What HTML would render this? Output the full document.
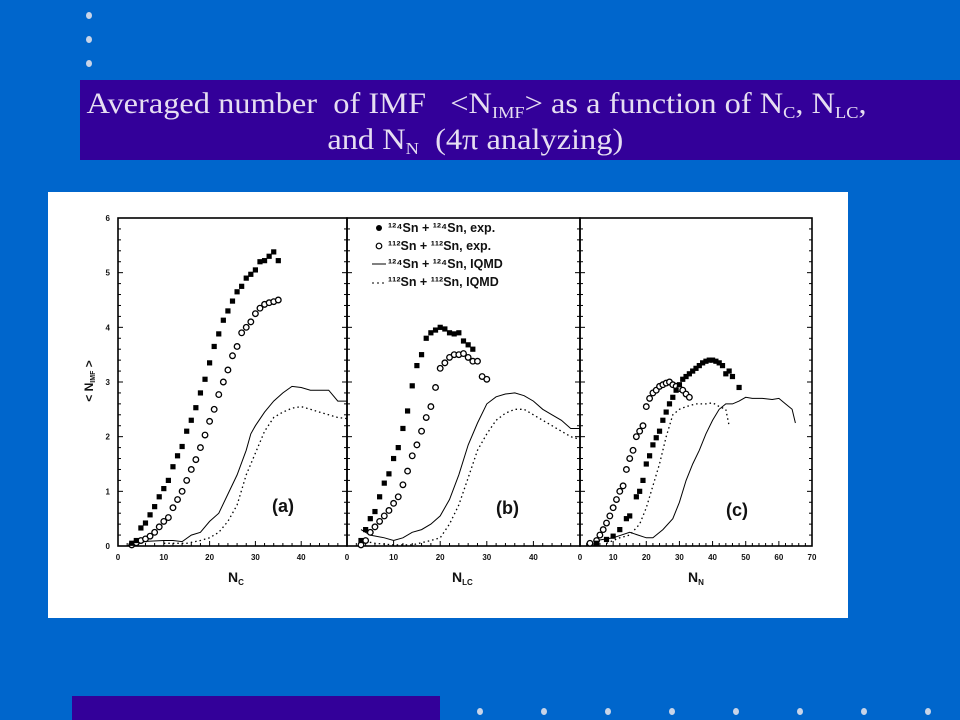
<!DOCTYPE html>
<html><head><meta charset="utf-8"><style>
html,body{margin:0;padding:0}
body{width:960px;height:720px;background:#0066cc;position:relative;overflow:hidden;font-family:"Liberation Sans",sans-serif}
.dot{position:absolute;width:6px;height:7px;border-radius:50%;background:#c8d4e8}
#hdr{position:absolute;left:80px;top:80px;width:880px;height:80px;background:#330099;overflow:hidden}
#title{position:absolute;left:0;top:6px;width:880px;color:#e6def2;font-family:"Liberation Serif",serif;font-size:30px;line-height:36px;transform:scaleX(1.08);transform-origin:0 0;white-space:nowrap}
#title sub{font-size:17px;vertical-align:-5px;line-height:0}
#card{position:absolute;left:48px;top:192px;width:800px;height:426px;background:#fff}
#foot{position:absolute;left:72px;top:696px;width:368px;height:24px;background:#330099}
svg text{font-family:"Liberation Sans",sans-serif;font-weight:bold}
</style></head><body>
<div class="dot" style="left:86px;top:12px"></div>
<div class="dot" style="left:86px;top:36px"></div>
<div class="dot" style="left:86px;top:60px"></div>
<div id="hdr">
<div id="title"><div style="padding-left:6px">Averaged number &nbsp;of IMF &nbsp;&nbsp;&lt;N<sub>IMF</sub>&gt; as a function of N<sub>C</sub>, N<sub>LC</sub>,</div><div style="padding-left:229px">and N<sub>N</sub> &nbsp;(4π analyzing)</div></div>
</div>
<div id="card"></div>
<div id="foot"></div>
<svg id="chart" width="960" height="720" style="position:absolute;left:0;top:0"></svg>
<script>
// ---- data ----
const aFilledX=[3,4,5,6,7,8,9,10,11,12,13,14,15,16,17,18,19,20,21,22,23,24,25,26,27,28,29,30,31,32,33,34,35];
const aFilledY=[0.05,0.1,0.33,0.42,0.57,0.72,0.9,1.05,1.2,1.45,1.65,1.82,2.1,2.3,2.53,2.8,3.05,3.35,3.65,3.88,4.13,4.3,4.48,4.65,4.75,4.9,4.97,5.05,5.2,5.22,5.3,5.38,5.22];
const aOpenX=[3,4,5,6,7,8,9,10,11,12,13,14,15,16,17,18,19,20,21,22,23,24,25,26,27,28,29,30,31,32,33,34,35];
const aOpenY=[0.02,0.06,0.1,0.13,0.18,0.25,0.35,0.45,0.52,0.7,0.85,1.0,1.2,1.4,1.58,1.8,2.03,2.28,2.5,2.77,3.0,3.22,3.48,3.65,3.9,4.0,4.1,4.25,4.35,4.42,4.45,4.47,4.5];
const aSolidX=[2,5,10,12,14,16,18,20,22,24,26,28,29,30,32,34,36,38,40,42,44,46,48,50];
const aSolidY=[0,0.08,0.1,0.1,0.08,0.2,0.25,0.45,0.6,0.95,1.3,1.75,2.05,2.2,2.45,2.65,2.8,2.92,2.9,2.85,2.85,2.85,2.65,2.65];
const aDotX=[10,15,18,20,22,24,26,28,30,32,34,36,38,40,42,44,46,48,50];
const aDotY=[0.05,0.05,0.1,0.15,0.25,0.45,0.75,1.3,1.7,2.1,2.35,2.45,2.52,2.55,2.5,2.45,2.4,2.35,2.33];

const bFilledX=[3,4,5,6,7,8,9,10,11,12,13,14,15,16,17,18,19,20,21,22,23,24,25,26,27];
const bFilledY=[0.1,0.3,0.5,0.63,0.9,1.15,1.32,1.6,1.8,2.15,2.47,2.93,3.3,3.5,3.8,3.9,3.95,4.0,3.97,3.9,3.88,3.9,3.75,3.68,3.6];
const bOpenX=[3,4,5,6,7,8,9,10,11,12,13,14,15,16,17,18,19,20,21,22,23,24,25,26,27,28,29,30];
const bOpenY=[0.02,0.1,0.25,0.35,0.45,0.55,0.65,0.78,0.9,1.12,1.37,1.65,1.85,2.1,2.35,2.55,2.9,3.25,3.35,3.45,3.5,3.5,3.52,3.45,3.38,3.38,3.1,3.05];
const bSolidX=[3,5,8,10,12,14,16,18,20,22,24,26,28,30,32,34,36,38,40,42,44,46,48,50];
const bSolidY=[0.3,0.2,0.15,0.1,0.15,0.25,0.3,0.4,0.55,0.85,1.3,1.85,2.25,2.6,2.73,2.78,2.8,2.75,2.65,2.5,2.4,2.3,2.15,2.15];
const bDotX=[3,6,10,14,18,20,22,24,26,28,30,32,34,36,38,40,42,44,46,48,50];
const bDotY=[0.1,0.05,0.02,0.02,0.1,0.15,0.4,0.75,1.25,1.75,2.05,2.3,2.43,2.5,2.5,2.4,2.3,2.2,2.1,2.0,1.95];

const cFilledX=[5,8,10,12,14,15,17,18,19,20,21,22,23,24,25,26,27,28,29,30,31,32,33,34,35,36,37,38,39,40,41,42,43,44,45,46,48];
const cFilledY=[0.05,0.12,0.18,0.3,0.5,0.55,0.9,1.0,1.2,1.5,1.65,1.85,1.98,2.1,2.3,2.45,2.6,2.72,2.85,2.95,3.05,3.1,3.15,3.2,3.25,3.3,3.35,3.38,3.4,3.4,3.38,3.35,3.3,3.15,3.2,3.1,2.9];
const cOpenX=[3,5,6,7,8,9,10,11,12,13,14,15,16,17,18,19,20,21,22,23,24,25,26,27,28,29,30,31,32,33];
const cOpenY=[0.05,0.1,0.2,0.3,0.42,0.55,0.7,0.85,1.0,1.1,1.4,1.6,1.75,2.0,2.1,2.2,2.55,2.7,2.8,2.85,2.92,2.95,2.98,3.0,2.95,2.92,2.88,2.85,2.78,2.72];
const cSolidX=[5,10,15,20,22,25,28,30,32,34,36,38,40,42,44,46,48,50,52,55,58,60,62,64,65];
const cSolidY=[0.1,0.15,0.25,0.15,0.15,0.3,0.5,0.8,1.2,1.5,1.75,2.05,2.3,2.5,2.6,2.6,2.65,2.72,2.7,2.7,2.68,2.7,2.6,2.5,2.25];
const cDotX=[8,12,15,18,20,22,24,26,28,30,32,35,38,40,42,44,45];
const cDotY=[0.05,0.15,0.2,0.4,0.7,1.1,1.5,2.0,2.4,2.5,2.55,2.6,2.6,2.62,2.55,2.5,2.2];

const yTicks=[0,1,2,3,4,5,6];
const aXTicks=[0,10,20,30,40];
const bXTicks=[0,10,20,30,40];
const cXTicks=[0,10,20,30,40,50,60,70];
const legendLabels=["¹²⁴Sn + ¹²⁴Sn, exp.","¹¹²Sn + ¹¹²Sn, exp.","¹²⁴Sn + ¹²⁴Sn, IQMD","¹¹²Sn + ¹¹²Sn, IQMD"];

// ---- drawing ----
const svg=document.getElementById('chart');
const NS='http://www.w3.org/2000/svg';
function mk(tag,attrs){const e=document.createElementNS(NS,tag);for(const k in attrs)e.setAttribute(k,attrs[k]);svg.appendChild(e);return e;}
const Y0=546,YT=218,YMAX=6;
function yS(v){return Y0-(Y0-YT)*v/YMAX;}
const panels=[
 {key:'a',x0:118,x1:347,xmax:50,ticks:aXTicks,lab:'(a)',lx:272,ly:512,title:'N',sub:'C',tx:228,
  f:[aFilledX,aFilledY],o:[aOpenX,aOpenY],s:[aSolidX,aSolidY],d:[aDotX,aDotY]},
 {key:'b',x0:347,x1:580,xmax:50,ticks:bXTicks,lab:'(b)',lx:496,ly:514,title:'N',sub:'LC',tx:452,
  f:[bFilledX,bFilledY],o:[bOpenX,bOpenY],s:[bSolidX,bSolidY],d:[bDotX,bDotY]},
 {key:'c',x0:580,x1:812,xmax:70,ticks:cXTicks,lab:'(c)',lx:726,ly:516,title:'N',sub:'N',tx:688,
  f:[cFilledX,cFilledY],o:[cOpenX,cOpenY],s:[cSolidX,cSolidY],d:[cDotX,cDotY]}
];
panels.forEach(p=>{
 const xS=v=>p.x0+(p.x1-p.x0)*v/p.xmax;
 const fr=mk('rect',{x:p.x0,y:YT,width:p.x1-p.x0,height:Y0-YT,fill:'none',stroke:'#000','stroke-width':1.6});
 
 
 for(let v=0;v<=YMAX+0.001;v+=0.2){const maj=Math.abs(v-Math.round(v))<0.01;const L=maj?5:3;
  const t1=mk('line',{x1:p.x0,x2:p.x0+L,y1:yS(v),y2:yS(v),stroke:'#000','stroke-width':1});
  
  
  const t2=mk('line',{x1:p.x1,x2:p.x1-L,y1:yS(v),y2:yS(v),stroke:'#000','stroke-width':1});
  
  }
 for(let v=0;v<=p.xmax;v+=2){const maj=v%10===0;
  const t=mk('line',{x1:xS(v),x2:xS(v),y1:Y0,y2:Y0-(maj?5:3),stroke:'#000','stroke-width':1});
  
  }
 p.ticks.forEach(v=>{const t=mk('text',{x:xS(v),y:Y0+14,'font-size':8,'text-anchor':'middle',fill:'#111'});t.textContent=v;
  
  });
 const ti=mk('text',{x:p.tx,y:582,'font-size':14,fill:'#111'});
 ti.innerHTML=p.title+'<tspan font-size="8" dy="3">'+p.sub+'</tspan>';
 
 
 const lb=mk('text',{x:p.lx,y:p.ly,'font-size':18,'font-weight':'normal',fill:'#111'});lb.textContent=p.lab;
 
 
 const path=(arr,dash,nm)=>{const d=arr[0].map((x,i)=>(i?'L':'M')+xS(x).toFixed(1)+','+yS(arr[1][i]).toFixed(1)).join('');
  const e=mk('path',{d:d,fill:'none',stroke:'#000','stroke-width':dash?1.3:1,'stroke-dasharray':dash?'1.5,3':'none'});
  
  };
 path(p.s,false,'iqmd-124-line-'+p.key);
 path(p.d,true,'iqmd-112-line-'+p.key);
 p.o[0].forEach((x,i)=>{const e=mk('circle',{cx:xS(x),cy:yS(p.o[1][i]),r:2.8,fill:'#fff',stroke:'#000','stroke-width':1.3});
  
  });
 p.f[0].forEach((x,i)=>{const cx=xS(x),cy=yS(p.f[1][i]);
  const e=mk('rect',{x:cx-2.6,y:cy-2.6,width:5.2,height:5.2,fill:'#000'});
  
  });
});
yTicks.forEach(v=>{const t=mk('text',{x:110,y:yS(v)+3,'font-size':8,'text-anchor':'end',fill:'#111'});t.textContent=v;
 
 });
const yt=mk('text',{x:0,y:0,'font-size':12,fill:'#111','text-anchor':'middle',transform:'translate(93,381) rotate(-90)'});
yt.innerHTML='&lt; N<tspan font-size="7" dy="2">IMF</tspan><tspan dy="-2"> &gt;</tspan>';


legendLabels.forEach((s,i)=>{const y=232+i*18;
 if(i===0){const e=mk('circle',{cx:379,cy:y-4,r:3,fill:'#000'});}
 if(i===1){const e=mk('circle',{cx:379,cy:y-4,r:2.8,fill:'#fff',stroke:'#000','stroke-width':1.2});}
 if(i===2){const e=mk('line',{x1:372,x2:386,y1:y-4,y2:y-4,stroke:'#000'});}
 if(i===3){const e=mk('line',{x1:372,x2:386,y1:y-3,y2:y-3,stroke:'#000','stroke-dasharray':'2,3'});}
 const t=mk('text',{x:388,y:y,'font-size':12.5,fill:'#111'});t.textContent=s;
 
 });
for(let i=0;i<8;i++){const d=document.createElement('div');d.className='dot';d.style.left=(477+i*64)+'px';d.style.top='708px';
 
 
 document.body.appendChild(d);}
</script>
</body></html>
